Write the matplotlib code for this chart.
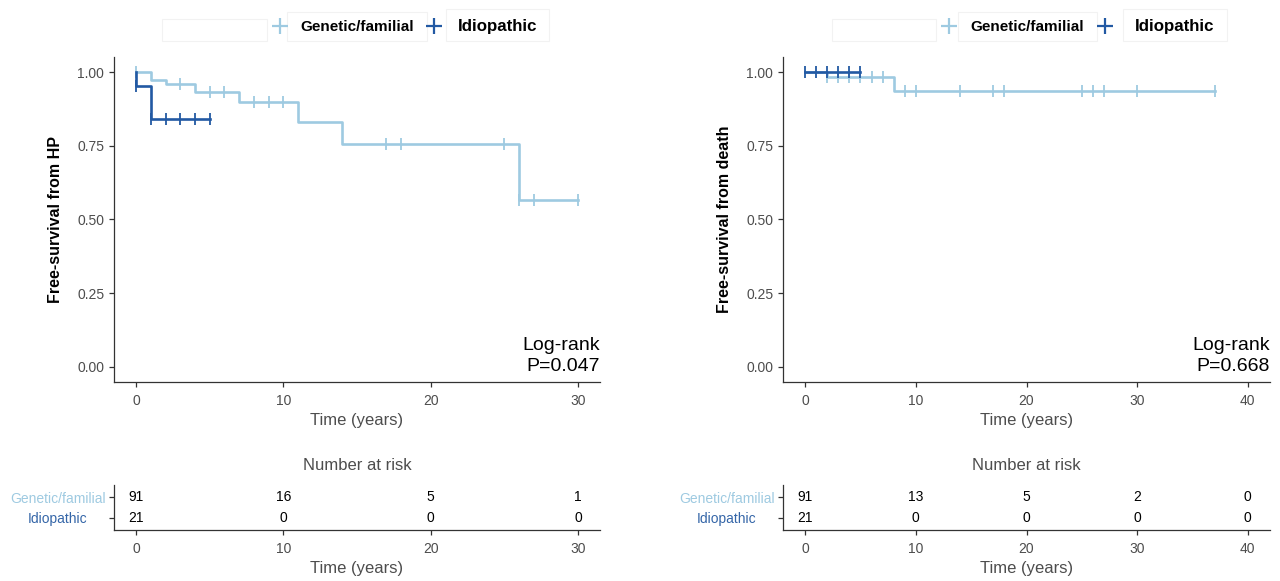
import matplotlib.pyplot as plt
from matplotlib.patches import Rectangle
from matplotlib.lines import Line2D

plt.rcParams['font.family'] = ['Liberation Sans', 'DejaVu Sans']

LIGHT = '#9ECAE1'
DARK = '#2259A3'
GREY = '#4d4d4d'

groups = ['Genetic/familial', 'Idiopathic']

# --- HP (left) ---
hp_gen_t = [0, 1, 2, 4, 7, 11, 14, 26, 30]
hp_gen_s = [1.0, 0.973, 0.958, 0.934, 0.900, 0.831, 0.756, 0.566, 0.566]
hp_gen_cens = [0, 3, 5, 6, 8, 9, 10, 17, 18, 25, 26, 27, 30]
hp_idi_t = [0, 0, 1, 5]
hp_idi_s = [1.0, 0.952, 0.840, 0.840]
hp_idi_cens = [0, 1, 2, 3, 4, 5]
hp_risk_x = [0, 10, 20, 30]
hp_risk_gen = [91, 16, 5, 1]
hp_risk_idi = [21, 0, 0, 0]
hp_p = 'P=0.047'

# --- death (right) ---
de_gen_t = [0, 2, 8, 37]
de_gen_s = [1.0, 0.982, 0.935, 0.935]
de_gen_cens = [2, 3, 4, 5, 6, 7, 9, 10, 14, 17, 18, 25, 26, 27, 30, 37]
de_idi_t = [0, 5]
de_idi_s = [1.0, 1.0]
de_idi_cens = [0, 1, 2, 3, 4, 5]
de_risk_x = [0, 10, 20, 30, 40]
de_risk_gen = [91, 13, 5, 2, 0]
de_risk_idi = [21, 0, 0, 0, 0]
de_p = 'P=0.668'

W, H = 1280, 581
fig = plt.figure(figsize=(12.8, 5.81), dpi=100)


def fx(px):
    return px / W


def fy(py):
    return 1 - py / H


def step_value(t, times, surv):
    v = surv[0]
    for ti, si in zip(times, surv):
        if ti <= t:
            v = si
    return v


def style_axis(ax):
    for s in ['top', 'right']:
        ax.spines[s].set_visible(False)
    for s in ['left', 'bottom']:
        ax.spines[s].set_color('#333333')
        ax.spines[s].set_linewidth(0.9)
    ax.tick_params(colors='#333333', labelcolor=GREY, labelsize=10, length=3.5, width=0.9)
    ax.tick_params(axis='x', pad=5)


def km_panel(left_px, right_px, xmax, xticks, curves, ylabel, ptext):
    ax = fig.add_axes([fx(left_px), fy(381.7), fx(right_px - left_px), (381.7 - 57.3) / H])
    for t, s, cens, col in curves:
        ax.step(t, s, where='post', color=col, lw=1.9)
        cy = [step_value(c, t, s) for c in cens]
        ax.plot(cens, cy, ls='none', marker='|', ms=9, mew=1.3, color=col)
    ax.set_xlim(-0.05 * xmax, 1.05 * xmax)
    ax.set_ylim(-0.05, 1.05)
    ax.set_xticks(xticks)
    ax.set_yticks([0, 0.25, 0.5, 0.75, 1.0])
    ax.set_yticklabels(['0.00', '0.25', '0.50', '0.75', '1.00'])
    style_axis(ax)
    ax.set_xlabel('Time (years)', fontsize=12, color=GREY, labelpad=4)
    ax.set_ylabel(ylabel, fontsize=11.5, fontweight='bold', labelpad=10)
    ax.text(1.0, 0.02, 'Log-rank\n' + ptext, transform=ax.transAxes, ha='right', va='bottom',
            fontsize=14, linespacing=1.3)
    return ax


def risk_panel(left_px, right_px, xmax, xticks, gen, idi):
    ax = fig.add_axes([fx(left_px), fy(530), fx(right_px - left_px), 45 / H])
    ax.set_xlim(-0.05 * xmax, 1.05 * xmax)
    ax.set_ylim(0.4, 2.6)
    for x, g, i in zip(xticks, gen, idi):
        ax.text(x, 2, str(g), ha='center', va='center', fontsize=10)
        ax.text(x, 1, str(i), ha='center', va='center', fontsize=10)
    ax.set_xticks(xticks)
    ax.set_yticks([2, 1])
    style_axis(ax)
    ax.tick_params(axis='x', pad=5)
    ax.tick_params(axis='y', pad=37)
    labs = ax.set_yticklabels(groups, ha='center', fontsize=10)
    labs[0].set_color(LIGHT)
    labs[1].set_color('#3566A8')
    ax.set_xlabel('Time (years)', fontsize=12, color=GREY, labelpad=4)
    ax.set_title('Number at risk', fontsize=12, color=GREY, pad=11)
    return ax


def legend_boxes(blank, plus1, box1, plus2, box2):
    edge = '#f2f2f2'
    fig.add_artist(Rectangle((fx(blank[0]), fy(41)), fx(blank[1] - blank[0]), 22 / H,
                             transform=fig.transFigure, facecolor='white', edgecolor=edge, lw=0.8))
    fig.add_artist(Rectangle((fx(box1[0]), fy(41)), fx(box1[1] - box1[0]), 29 / H,
                             transform=fig.transFigure, facecolor='white', edgecolor=edge, lw=0.8))
    fig.add_artist(Rectangle((fx(box2[0]), fy(41)), fx(box2[1] - box2[0]), 32 / H,
                             transform=fig.transFigure, facecolor='white', edgecolor=edge, lw=0.8))
    for px, col in [(plus1, LIGHT), (plus2, DARK)]:
        fig.add_artist(Line2D([fx(px)], [fy(26)], transform=fig.transFigure, marker='+',
                              ms=12, mew=1.6, color=col))
    fig.text(fx((box1[0] + box1[1]) / 2), fy(27), groups[0], ha='center', va='center',
             fontsize=11, fontweight='bold')
    fig.text(fx((box2[0] + box2[1]) / 2), fy(26), groups[1], ha='center', va='center',
             fontsize=12.2, fontweight='bold')


km_panel(114, 600, 30, [0, 10, 20, 30],
         [(hp_gen_t, hp_gen_s, hp_gen_cens, LIGHT), (hp_idi_t, hp_idi_s, hp_idi_cens, DARK)],
         'Free-survival from HP', hp_p)
km_panel(783, 1270, 40, [0, 10, 20, 30, 40],
         [(de_gen_t, de_gen_s, de_gen_cens, LIGHT), (de_idi_t, de_idi_s, de_idi_cens, DARK)],
         'Free-survival from death', de_p)

risk_panel(114, 600, 30, hp_risk_x, hp_risk_gen, hp_risk_idi)
risk_panel(783, 1270, 40, de_risk_x, de_risk_gen, de_risk_idi)

legend_boxes((162, 267), 280, (287, 427), 434, (446, 549))
legend_boxes((832, 936), 949, (958, 1097), 1105, (1123, 1227))

fig.savefig('out.png', dpi=100)
